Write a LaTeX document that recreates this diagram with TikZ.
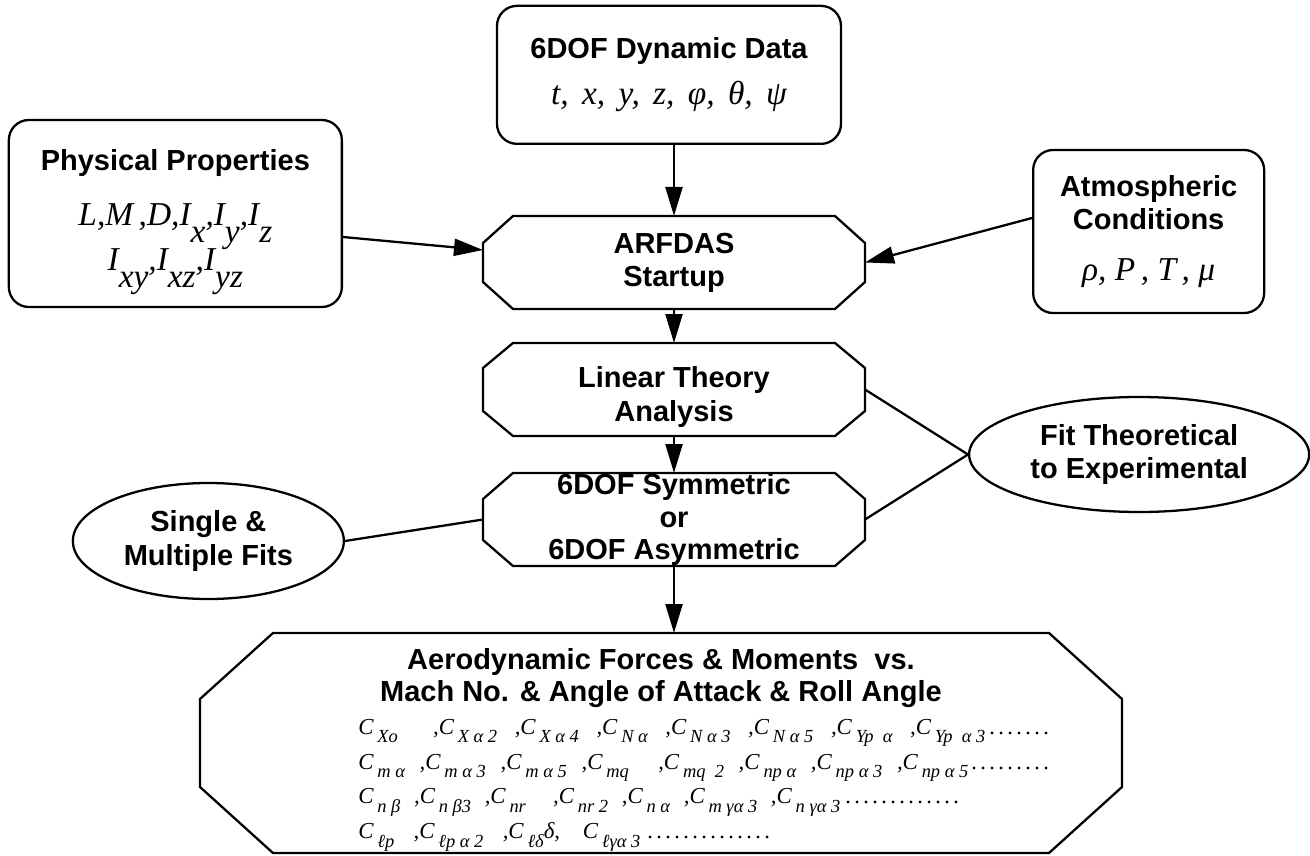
\documentclass[tikz,border=0pt]{standalone}
\usepackage{fontspec}
\setmainfont{Liberation Sans}
\newfontfamily\varfont{Liberation Serif}
\usepackage{tikz}
\usetikzlibrary{shapes, arrows.meta, calc, positioning}

\newcommand{\mth}{\varfont\itshape\mdseries\fontsize{19}{22}\selectfont}
\newcommand{\lsub}[1]{\raisebox{-0.5em}{#1}}
\newcommand{\cs}[1]{C\,\raisebox{-0.36em}{\fontsize{10.5}{11}\selectfont #1}}
\newcommand{\dotrow}[1]{\leaders\hbox to 0.18cm{\hss.\hss}\hskip #1\relax\kern0pt}

\tikzset{
  txt/.style={font=\fontsize{16.5}{18.8}\selectfont\bfseries, align=center, line width=1.3pt},
  rbox/.style={txt, draw, rounded corners=0.4cm},
  obox/.style={txt, rectangle, minimum width=7.64cm, minimum height=1.86cm, inner sep=0pt, outer sep=0pt},
  ebox/.style={txt, draw, ellipse, inner sep=0pt},
  arr/.style={-{Triangle[length=0.58cm, width=0.34cm]}, line width=1.3pt},
  lnk/.style={line width=1.3pt},
}

\begin{document}
\begin{tikzpicture}
        \useasboundingbox (0,0) rectangle (26.2,-17.12);

        % main chain
        \node [obox] (arfdas) at (13.48,-5.25) {ARFDAS\\Startup};
        \node [rbox, minimum width=6.88cm, minimum height=2.76cm, above=1.42cm of arfdas, xshift=-0.1cm] (dyn)
            {6DOF Dynamic Data\\[0.25cm]{\mth t,\hspace{0.15em} x,\hspace{0.15em} y,\hspace{0.15em} z,\hspace{0.15em} φ,\hspace{0.15em} θ,\hspace{0.15em} ψ}};
        \node [obox, below=0.68cm of arfdas] (lin) {\rule{0pt}{0.72cm}Linear Theory\\Analysis};
        \node [obox, font=\fontsize{16.5}{18.4}\selectfont\bfseries, below=0.74cm of lin] (sym) {6DOF Symmetric\\or\\6DOF Asymmetric};
        \node [obox, minimum width=18.44cm, minimum height=4.4cm, below=1.34cm of sym, xshift=-0.26cm] (aero) {};

        % chamfered outlines
        \foreach \n/\cx/\cy in {arfdas/0.6/0.54, lin/0.6/0.5, sym/0.6/0.52, aero/1.46/1.32}
            \draw [lnk] ($(\n.north west)+(\cx,0)$) -- ($(\n.north east)+(-\cx,0)$) -- ($(\n.north east)+(0,-\cy)$)
                -- ($(\n.south east)+(0,\cy)$) -- ($(\n.south east)+(-\cx,0)$) -- ($(\n.south west)+(\cx,0)$)
                -- ($(\n.south west)+(0,\cy)$) -- ($(\n.north west)+(0,-\cy)$) -- cycle;

        % inputs
        \node [rbox, minimum width=6.66cm, minimum height=3.74cm, left=2.8cm of arfdas, yshift=0.98cm] (phys)
            {\rule{0pt}{0.75cm}Physical Properties\\[0.45cm]{\mth L,M\,,D,I\lsub{x},I\lsub{y},I\lsub{z}}\\[-0.05cm]{\mth I\lsub{xy},I\lsub{xz},I\lsub{yz}}};
        \node [rbox, minimum width=4.62cm, minimum height=3.26cm, right=3.34cm of arfdas, yshift=0.62cm] (atm)
            {Atmospheric\\Conditions\\[0.35cm]{\mth ρ, P\,, T\,, μ}};

        % fitting
        \coordinate (fitmid) at ($(lin.east)!0.5!(sym.east)$);
        \node [ebox, minimum width=6.8cm, minimum height=2.3cm, right=2.06cm of fitmid] (fit) {Fit Theoretical\\to Experimental};
        \node [ebox, minimum width=5.42cm, minimum height=2.32cm, left=2.76cm of sym, yshift=-0.43cm] (fits) {Single \&\\Multiple Fits};

        % results
        \node [txt, font=\fontsize{16.5}{18.2}\selectfont\bfseries] (aerohead) at ([yshift=1.3cm]aero.center)
            {Aerodynamic Forces \& Moments~~vs.\\Mach No. \& Angle of Attack \& Roll Angle};
        \node [anchor=west, align=left, inner sep=0pt, font=\varfont\itshape\fontsize{13}{19.9}\selectfont] (aerocf)
            at ([xshift=3.16cm, yshift=-0.84cm]aero.west)
            {\makebox[12.54cm][s]{\cs{Xo}\ \ ,\cs{X\ α\ 2} ,\cs{X\ α\ 4} ,\cs{N α} ,\cs{N α\ 3} ,\cs{N α\ 5} ,\cs{Yp\ \ α} ,\cs{Yp\ \ α\ 3}}\dotrow{1.4cm}\\
             \makebox[12.2cm][s]{\cs{m\ α} ,\cs{m\ α\ 3} ,\cs{m\ α\ 5} ,\cs{mq}\ \ ,\cs{mq\ \ 2} ,\cs{np\ α} ,\cs{np\ α\ 3} ,\cs{np\ α\ 5}}\dotrow{1.74cm}\\
             \makebox[9.64cm][s]{\cs{n β} ,\cs{n β3} ,\cs{nr}\ \ ,\cs{nr 2} ,\cs{n α} ,\cs{m\ γα\ 3} ,\cs{n γα\ 3}}\dotrow{2.44cm}\\
             \makebox[5.64cm][s]{\cs{ℓp} ,\cs{ℓp α 2} ,\cs{ℓδ}δ, \cs{ℓγα 3}}\dotrow{2.74cm}};

        \draw [arr] (dyn.south -| arfdas.north) -- (arfdas.north);
        \draw [arr] ([yshift=-0.47cm]phys.east) -- ([yshift=0.25cm]arfdas.west);
        \draw [arr] ([yshift=0.27cm]atm.west) -- (arfdas.east);
        \draw [arr] (arfdas) -- (lin);
        \draw [arr] (lin) -- (sym);
        \draw [arr] (sym) -- (sym |- aero.north);
        \draw [lnk] (lin.east) -- (fit.west);
        \draw [lnk] (sym.east) -- (fit.west);
        \draw [lnk] (fits.east) -- (sym.west);
\end{tikzpicture}
\end{document}
